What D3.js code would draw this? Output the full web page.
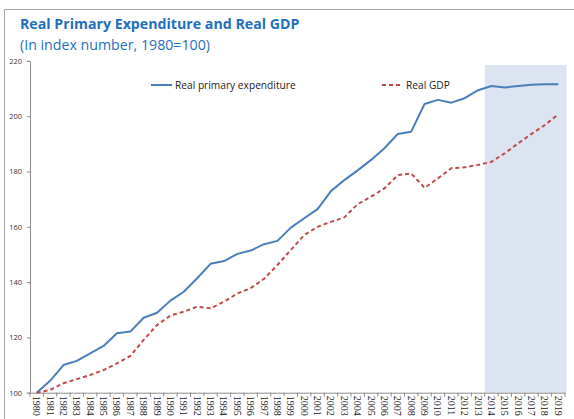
<!DOCTYPE html>
<html>
<head>
<meta charset="utf-8">
<script src="https://cdn.jsdelivr.net/npm/d3@7"></script>
<style>
  html, body { margin: 0; padding: 0; background: #fff; }
  svg { display: block; }
</style>
</head>
<body>
<svg id="chart" width="574" height="419"></svg>
<script>
// Years on the category axis
const years = d3.range(1980, 2020).map(String);

// Index values, 1980 = 100
const primaryExpenditure = [
  100.0, 104.3, 110.0, 111.5, 114.2, 116.9, 121.5, 122.1, 127.1, 128.9,
  133.3, 136.5, 141.4, 146.6, 147.6, 150.2, 151.4, 153.7, 154.9, 159.7,
  163.1, 166.4, 172.9, 176.9, 180.4, 184.2, 188.4, 193.6, 194.4, 204.4,
  205.9, 204.9, 206.5, 209.4, 210.9, 210.4, 210.9, 211.4, 211.6, 211.6
];
const realGDP = [
  100.0, 101.0, 103.4, 104.9, 106.4, 108.2, 110.6, 113.3, 119.1, 124.5,
  127.9, 129.3, 131.1, 130.5, 132.9, 135.9, 137.8, 141.2, 146.2, 151.6,
  157.0, 160.0, 161.8, 163.4, 168.2, 170.9, 173.9, 178.7, 179.3, 174.1,
  177.5, 181.2, 181.5, 182.4, 183.5, 186.6, 190.2, 193.6, 196.8, 200.7
];
const yTicks = [100, 120, 140, 160, 180, 200, 220];
const projectionStart = "2014";

const seriesNames = ["Real primary expenditure", "Real GDP"];
const seriesColors = ["#4a7ebb", "#be4b48"];

const svg = d3.select("#chart");

// Outer frame (top and left edges)
svg.append("path")
  .attr("d", "M4.5,419 V9.5 H574")
  .attr("fill", "none")
  .attr("stroke", "#a6a6a6")
  .attr("stroke-width", 1);

// Titles
svg.append("text")
  .attr("x", 20).attr("y", 29)
  .attr("font-family", "'Open Sans', sans-serif")
  .attr("font-weight", "bold")
  .attr("font-size", 14.2)
  .attr("fill", "#1f6fbf")
  .text("Real Primary Expenditure and Real GDP");
svg.append("text")
  .attr("x", 20).attr("y", 50)
  .attr("font-family", "'Open Sans', sans-serif")
  .attr("font-size", 14.2)
  .attr("fill", "#1f6fbf")
  .text("(In index number, 1980=100)");

const x = d3.scaleBand().domain(years).range([30, 565]).padding(0);
const y = d3.scaleLinear().domain([100, 220]).range([392.7, 60.9]);

// Projection shading
svg.append("rect")
  .attr("x", x(projectionStart))
  .attr("y", 65)
  .attr("width", x.range()[1] - x(projectionStart) + 1.5)
  .attr("height", y(100) - 65)
  .attr("fill", "#dbe4f0");

// Y axis
const yAxis = svg.append("g")
  .attr("transform", "translate(30,0)")
  .call(d3.axisLeft(y).tickValues(yTicks).tickSize(3).tickPadding(5));
yAxis.select(".domain").attr("stroke", "#8c8c8c");
yAxis.selectAll(".tick line").attr("stroke", "#8c8c8c");
yAxis.selectAll("text")
  .attr("font-family", "'Open Sans', sans-serif")
  .attr("font-size", 7.5)
  .attr("fill", "#333");

// X axis with ticks on category boundaries
const xAxis = svg.append("g")
  .attr("transform", `translate(0,${y(100)})`)
  .call(d3.axisBottom(x).tickSize(0).tickSizeOuter(0));
xAxis.select(".domain").attr("stroke", "#8c8c8c");
xAxis.selectAll(".tick line").remove();
xAxis.selectAll(".boundary")
  .data(years.concat(["end"]))
  .enter().append("line")
  .attr("x1", (d, i) => x.range()[0] + i * x.bandwidth())
  .attr("x2", (d, i) => x.range()[0] + i * x.bandwidth())
  .attr("y1", 0).attr("y2", 4)
  .attr("stroke", "#8c8c8c");
xAxis.selectAll(".tick text")
  .attr("font-family", "'Liberation Serif', 'Times New Roman', serif")
  .attr("font-size", 10)
  .attr("fill", "#222")
  .attr("text-anchor", "start")
  .attr("dy", "0.35em")
  .attr("transform", "translate(0,3) rotate(90)")
  .attr("x", 0).attr("y", 0);

// Lines
const line = d3.line()
  .x((d, i) => x(years[i]) + x.bandwidth() / 2)
  .y(d => y(d));

svg.append("path")
  .datum(primaryExpenditure)
  .attr("d", line)
  .attr("fill", "none")
  .attr("stroke", seriesColors[0])
  .attr("stroke-width", 2)
  .attr("stroke-linejoin", "round");

svg.append("path")
  .datum(realGDP)
  .attr("d", line)
  .attr("fill", "none")
  .attr("stroke", seriesColors[1])
  .attr("stroke-width", 2)
  .attr("stroke-dasharray", "4,3");

// Legend
const legend = [
  { x: 151, name: seriesNames[0], color: seriesColors[0], dash: null },
  { x: 382, name: seriesNames[1], color: seriesColors[1], dash: "4,3" }
];
const lg = svg.append("g").selectAll("g").data(legend).enter().append("g")
  .attr("transform", d => `translate(${d.x},85)`);
lg.append("line")
  .attr("x1", 0).attr("x2", 21).attr("y1", 0).attr("y2", 0)
  .attr("stroke", d => d.color)
  .attr("stroke-width", 2)
  .attr("stroke-dasharray", d => d.dash);
lg.append("text")
  .attr("x", 24).attr("y", 4)
  .attr("font-family", "'Open Sans', sans-serif")
  .attr("font-size", 10.2)
  .attr("fill", "#222")
  .text(d => d.name);
</script>
</body>
</html>
